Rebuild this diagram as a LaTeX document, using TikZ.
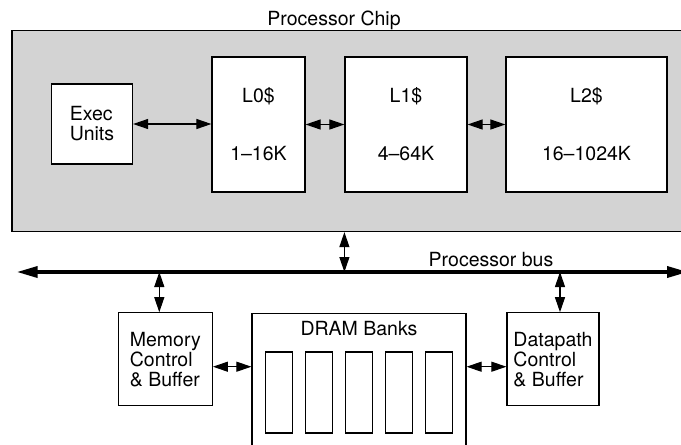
\documentclass[tikz,border=0pt]{standalone}
\usepackage{fontspec}
\setmainfont{TeX Gyre Heros}
\usetikzlibrary{arrows.meta, positioning}
\definecolor{chipgray}{RGB}{211, 211, 211}

\begin{document}
\begin{tikzpicture}[
    x=1pt, y=-1pt,
    every node/.style={font=\fontsize{19.5}{20}\selectfont},
    chipbox/.style={rectangle, draw, fill=chipgray, line width=1.3pt, inner sep=0pt},
    unitbox/.style={rectangle, draw, fill=white, line width=1.2pt, inner sep=0pt, align=left},
    cachebox/.style={rectangle, draw, fill=white, line width=1.2pt, inner sep=0pt,
                     align=center, minimum height=135pt},
    bankbox/.style={rectangle, draw, line width=1.2pt, minimum width=27pt,
                    minimum height=81pt, inner sep=0pt},
    link/.style={{Triangle[length=15pt, width=10pt]}-{Triangle[length=15pt, width=10pt]}, line width=1.1pt},
    busline/.style={{Triangle[length=21pt, width=11pt]}-{Triangle[length=21pt, width=11pt]}, line width=3.5pt}
]
\clip (0,0) rectangle (681,445);

% Processor chip
\node[chipbox, minimum width=688pt, minimum height=201pt] (chip) at (356,131) {};
\node[anchor=base] (chiplabel) at (334,25) {Processor Chip};

% Exec units and caches
\node[unitbox, minimum width=81pt, minimum height=80pt] (exec) at (92,124) {Exec\\Units};
\node[cachebox, minimum width=93pt] (l0) at (258.5,124.5) {L0\$\\[38pt]1--16K};
\node[cachebox, minimum width=122pt] (l1) at (406,124.5) {L1\$\\[38pt]4--64K};
\node[cachebox, minimum width=161pt] (l2) at (586.5,124.5) {L2\$\\[38pt]16--1024K};

% Processor bus
\coordinate (busL) at (16.7,272);
\coordinate (busR) at (688,272);
\node[anchor=base] (buslabel) at (491,266.5) {Processor bus};

% Memory side
\node[unitbox, minimum width=94pt, minimum height=93pt] (mem) at (165.3,359.3) {Memory\\Control\\\& Buffer};
\node[unitbox, minimum width=214pt, minimum height=150pt, anchor=north] (dram) at (359,312.7) {};
\node[below=8pt of dram.north, inner sep=0pt] (dramlabel) {DRAM Banks};
\foreach \i in {0,...,4}
  \node[bankbox] (bank\i) at (279+40*\i,392.5) {};
\node[unitbox, minimum width=92pt, minimum height=93pt] (data) at (553,359.3) {Datapath\\Control\\\& Buffer};

% Taps and ports
\coordinate (memtap) at ([xshift=-6pt]mem.north);
\coordinate (datatap) at ([xshift=7pt]data.north);
\coordinate (memport) at ([yshift=-7.4pt]mem.east);
\coordinate (dataport) at ([yshift=-7.4pt]data.west);

% Chip arrows
\draw[link] (exec.east) -- (exec.east -| l0.west);
\draw[link] (l0.east) -- (l1.west);
\draw[link] (l1.east) -- (l2.west);
\draw[link] (l1.west |- chip.south) -- (l1.west |- busL);

% Bus
\draw[busline] (busL) -- (busR);

% Memory arrows
\draw[link] (memtap |- busL) -- (memtap);
\draw[link] (datatap |- busL) -- (datatap);
\draw[link] (memport) -- (memport -| dram.west);
\draw[link] (dram.east |- dataport) -- (dataport);

\end{tikzpicture}
\end{document}
